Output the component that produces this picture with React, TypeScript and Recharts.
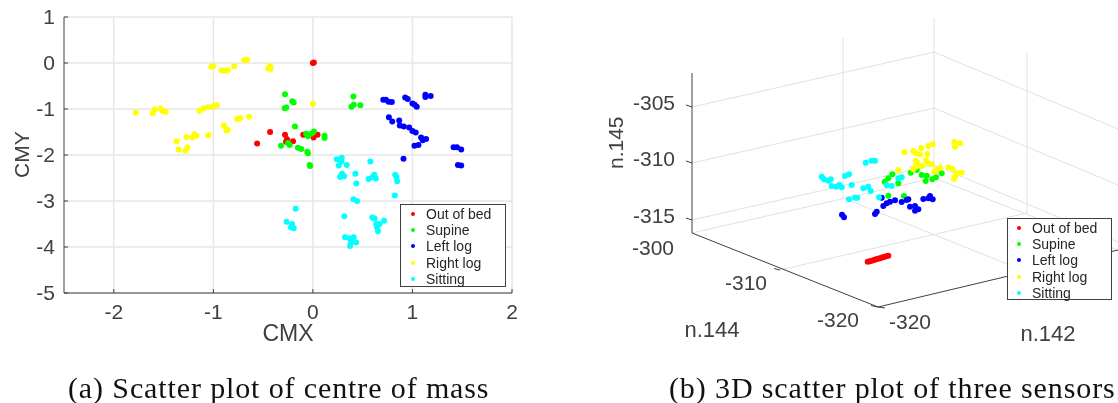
import React from 'react';
import {
  ScatterChart,
  Scatter,
  XAxis,
  YAxis,
  CartesianGrid,
  ReferenceLine,
  ReferenceDot,
  Legend,
} from 'recharts';

type Pair = [number, number];

// (a) centre of mass, CMX / CMY
const massBed: Pair[] = [[0, 0], [0.01, 0.01], [-0.43, -1.5], [-0.56, -1.75], [-0.28, -1.56], [-0.26, -1.66], [-0.27, -1.71], [-0.2, -1.7], [-0.097, -1.56], [0.007, -1.62], [0.047, -1.56]];
const massSupine: Pair[] = [[-0.28, -0.68], [-0.207, -0.83], [-0.193, -0.86], [-0.283, -0.985], [-0.267, -0.97], [-0.18, -1.38], [-0.32, -1.8], [-0.25, -1.74], [-0.233, -1.78], [-0.15, -1.84], [-0.117, -1.87], [-0.05, -1.96], [-0.057, -1.93], [-0.027, -2.24], [-0.033, -2.22], [-0.067, -1.54], [-0.05, -1.59], [-0.017, -1.54], [0.01, -1.49], [0.117, -1.58], [0.117, -1.63], [0.407, -0.73], [0.477, -0.92], [0.387, -0.95], [0.41, -0.91]];
const massLeft: Pair[] = [[0.707, -0.8], [0.733, -0.8], [0.76, -0.84], [0.793, -0.85], [0.927, -0.75], [0.953, -0.78], [1.0, -0.88], [1.023, -0.91], [1.043, -0.95], [1.13, -0.69], [1.13, -0.74], [1.183, -0.72], [0.763, -1.18], [0.797, -1.27], [0.867, -1.25], [0.873, -1.36], [0.913, -1.38], [0.967, -1.4], [1.0, -1.48], [1.033, -1.51], [1.087, -1.62], [1.103, -1.68], [1.137, -1.65], [1.02, -1.8], [1.06, -1.78], [0.91, -2.08], [1.413, -1.83], [1.447, -1.83], [1.49, -1.88], [1.457, -2.22], [1.49, -2.23]];
const massRight: Pair[] = [[-1.78, -1.08], [-1.61, -1.09], [-1.59, -1.01], [-1.53, -0.99], [-1.51, -1.04], [-1.48, -1.06], [-1.37, -1.7], [-1.35, -1.88], [-1.27, -1.61], [-1.28, -1.91], [-1.26, -1.84], [-1.21, -1.62], [-1.19, -1.55], [-1.17, -1.58], [-1.14, -1.04], [-1.1, -0.99], [-1.05, -0.96], [-1.0, -0.94], [-0.965, -0.92], [-1.05, -1.57], [-1.02, -0.08], [-1.0, -0.07], [-0.92, -0.16], [-0.89, -0.17], [-0.855, -0.16], [-0.79, -0.07], [-0.69, 0.06], [-0.66, 0.07], [-0.45, -0.12], [-0.43, -0.07], [-0.425, -0.13], [-0.895, -1.36], [-0.87, -1.47], [-0.855, -1.45], [-0.76, -1.22], [-0.73, -1.2], [-0.64, -1.17], [0, -0.885]];
const massSitting: Pair[] = [[0.24, -2.09], [0.29, -2.06], [0.287, -2.14], [0.26, -2.23], [0.34, -2.22], [0.577, -2.14], [0.427, -2.41], [0.293, -2.41], [0.273, -2.48], [0.313, -2.46], [0.437, -2.62], [0.56, -2.52], [0.6, -2.48], [0.617, -2.43], [0.633, -2.51], [0.827, -2.43], [0.84, -2.48], [0.847, -2.57], [0.823, -2.88], [0.407, -2.96], [0.444, -3.0], [-0.173, -3.17], [-0.264, -3.45], [-0.21, -3.5], [-0.22, -3.57], [-0.193, -3.59], [0.315, -3.33], [0.322, -3.79], [0.366, -3.81], [0.41, -3.79], [0.383, -3.9], [0.434, -3.9], [0.373, -3.98], [0.597, -3.36], [0.62, -3.38], [0.637, -3.5], [0.67, -3.5], [0.644, -3.57], [0.654, -3.66], [0.715, -3.43]];

// (b) three sensors, already projected onto the view plane
const sensorBed: Pair[] = [[17.57, -2.87], [17.77, -2.82], [17.97, -2.77], [18.2, -2.7], [18.4, -2.63], [18.6, -2.58], [18.8, -2.53], [19.0, -2.46], [19.2, -2.4], [19.42, -2.33], [19.63, -2.27]];
const sensorSupine: Pair[] = [[19.63, 3.73], [21.2, 3.7], [19.27, 5.13], [19.63, 5.47], [20.03, 5.87], [20.63, 4.97], [21.87, 6.03], [22.47, 6.3], [22.97, 5.8], [23.47, 5.73], [23.37, 5.2], [24.03, 5.37], [24.4, 5.57], [24.97, 5.97]];
const sensorLeft: Pair[] = [[15.0, 1.83], [15.2, 1.57], [18.3, 1.9], [18.47, 2.13], [18.97, 3.53], [19.13, 2.7], [19.47, 2.97], [19.8, 3.13], [20.3, 3.27], [20.97, 3.1], [21.47, 3.3], [21.63, 3.37], [21.8, 2.63], [22.3, 2.7], [22.3, 2.23], [22.63, 2.37], [23.13, 3.4], [23.63, 3.47], [23.8, 3.7], [24.07, 3.37]];
const sensorRight: Pair[] = [[20.63, 6.3], [21.23, 8.07], [22.13, 8.2], [22.37, 7.97], [22.8, 7.87], [22.93, 8.5], [23.53, 7.9], [23.63, 8.7], [24.07, 8.87], [22.37, 7.23], [22.53, 7.03], [22.4, 6.63], [22.13, 6.37], [23.0, 6.7], [23.4, 7.3], [23.53, 7.03], [23.97, 6.87], [24.23, 6.13], [24.53, 6.37], [24.8, 6.53], [25.63, 6.57], [26.07, 6.4], [26.23, 9.1], [26.8, 8.97], [26.3, 8.63], [26.47, 5.97], [26.97, 6.03], [26.3, 5.63], [26.2, 5.4]];
const sensorSitting: Pair[] = [[12.97, 5.63], [13.2, 5.37], [13.63, 5.23], [13.87, 5.37], [13.97, 4.7], [14.4, 4.63], [14.73, 4.8], [14.97, 4.57], [15.3, 5.7], [15.7, 5.87], [15.97, 4.8], [17.13, 4.47], [17.63, 4.63], [17.87, 4.2], [17.37, 7.03], [17.97, 7.23], [18.3, 7.23], [15.7, 3.37], [16.3, 3.53], [16.53, 3.53], [18.7, 3.57], [19.47, 4.77], [19.97, 4.7], [20.63, 5.47], [20.97, 5.57]];

const seriesNames = ['Out of bed', 'Supine', 'Left log', 'Right log', 'Sitting'];
const seriesColors = ['#ff0000', '#00ff00', '#0000ff', '#ffff00', '#00ffff'];
const massSeries = [massBed, massSupine, massLeft, massRight, massSitting];
const sensorSeries = [sensorBed, sensorSupine, sensorLeft, sensorRight, sensorSitting];

const cmxTicks = [-2, -1, 0, 1, 2];
const cmyTicks = [-5, -4, -3, -2, -1, 0, 1];

// n.145 ticks on the left wall edge, view-plane height -> label
const sensorZTicks = [12.6, 7, 1.3];
const sensorZLabels = ['-305', '-310', '-315'];

// box edges in the view plane: x1, y1, x2, y2
const wallLines = [
  [0, 12.6, 24.2, 18.1], [24.2, 18.1, 42.6, 10.4],
  [0, 7, 24.2, 12.5], [24.2, 12.5, 42.6, 4.8],
  [0, 1.3, 24.2, 6.8], [24.2, 6.8, 42.6, -0.9],
  [15.1, 19.5, 15.1, 3.5], [24.2, 21.5, 24.2, 5.5], [33.5, 18, 33.5, 2],
  [0, 0, 24.2, 5.5], [24.2, 5.5, 42.6, -1.7],
  [15.1, 3.5, 33.5, -3.9], [33.5, 2, 8.8, -3.7],
];
const frontAxes = [
  [0, 16, 0, 0], [0, 0, 18.6, -7.4], [18.6, -7.4, 42.6, -1.7],
  [8.8, -3.7, 8.2, -3.55], [18.6, -7.4, 17.9, -7.25], [18.6, -7.4, 19.3, -7.5],
];
const sensorLabels: [number, number, string, number][] = [
  [-3.9, -1.5, '-300', 21],
  [5.4, -5, '-310', 21],
  [14.6, -8.7, '-320', 21],
  [21.8, -8.9, '-320', 21],
  [2, -9.6, 'n.144', 22],
  [35.6, -10, 'n.142', 22],
];

const textColor = '#404040';
const sans = '"Liberation Sans", Arial, sans-serif';

const toPoints = (rows: Pair[]) => rows.map(([x, y]) => ({ x, y }));

const Dot = ({ cx, cy, fill }: any) => <circle cx={cx} cy={cy} r={3} fill={fill} />;

function CmxTick({ x, y, payload }: any) {
  return (
    <g>
      <line x1={x} x2={x} y1={y} y2={y - 4} stroke={textColor} />
      <text x={x} y={y + 26} textAnchor="middle" fontSize={21} fontFamily={sans} fill={textColor}>
        {payload.value}
      </text>
    </g>
  );
}

function CmyTick({ x, y, payload }: any) {
  return (
    <g>
      <line x1={x} x2={x + 4} y1={y} y2={y} stroke={textColor} />
      <text x={x - 9} y={y + 7} textAnchor="end" fontSize={21} fontFamily={sans} fill={textColor}>
        {payload.value}
      </text>
    </g>
  );
}

function SensorZTick({ x, y, index }: any) {
  return (
    <g>
      <line x1={x} x2={x - 6} y1={y} y2={y - 2} stroke={textColor} />
      <text x={x - 17} y={y + 3} textAnchor="end" fontSize={21} fontFamily={sans} fill={textColor}>
        {sensorZLabels[index]}
      </text>
    </g>
  );
}

function LegendBox({ payload, dotLeft, textLeft }: any) {
  return (
    <div style={{ width: '100%', height: '100%', boxSizing: 'border-box', border: '1px solid #404040', background: '#fff', paddingTop: 1 }}>
      {(payload || []).map((entry: any) => (
        <div key={entry.value} style={{ position: 'relative', height: 16.2, lineHeight: '16.2px', fontSize: 14, fontFamily: sans, color: '#262626' }}>
          <span style={{ position: 'absolute', left: dotLeft, top: 6, width: 4, height: 4, borderRadius: '50%', background: entry.color }} />
          <span style={{ position: 'absolute', left: textLeft, whiteSpace: 'nowrap' }}>{entry.value}</span>
        </div>
      ))}
    </div>
  );
}

function MassChart() {
  return (
    <ScatterChart width={530} height={345} margin={{ top: 17, right: 18, bottom: 0, left: 0 }}>
      <CartesianGrid stroke="#e6e6e6" strokeWidth={1.5} verticalValues={cmxTicks} horizontalValues={cmyTicks} />
      <XAxis
        type="number"
        dataKey="x"
        domain={[-2.5, 2]}
        ticks={cmxTicks}
        height={52}
        interval={0}
        tickSize={0}
        tickMargin={0}
        tickLine={false}
        stroke={textColor}
        tick={<CmxTick />}
        label={{ value: 'CMX', position: 'insideBottom', dx: 0, dy: 1, fontSize: 23, fontFamily: sans, fill: textColor }}
      />
      <YAxis
        type="number"
        dataKey="y"
        domain={[-5, 1]}
        ticks={cmyTicks}
        width={64}
        interval={0}
        tickSize={0}
        tickMargin={0}
        tickLine={false}
        stroke={textColor}
        tick={<CmyTick />}
        label={{ value: 'CMY', angle: -90, position: 'insideLeft', dx: 17, dy: 23, fontSize: 21, fontFamily: sans, fill: textColor }}
      />
      <Legend
        layout="vertical"
        align="center"
        verticalAlign="middle"
        itemSorter={null}
        content={<LegendBox dotLeft={10} textLeft={25} />}
        wrapperStyle={{ position: 'absolute', left: 400, top: 204, width: 106, height: 83 }}
      />
      {massSeries.map((rows, i) => (
        <Scatter key={seriesNames[i]} name={seriesNames[i]} data={toPoints(rows)} fill={seriesColors[i]} shape={Dot} isAnimationActive={false} />
      ))}
    </ScatterChart>
  );
}

function SensorChart() {
  return (
    <ScatterChart width={518} height={360} margin={{ top: 0, right: 0, bottom: 0, left: 0 }}>
      <XAxis type="number" dataKey="x" domain={[0, 42.6]} hide />
      <YAxis
        type="number"
        dataKey="y"
        domain={[-12.7, 23.3]}
        ticks={sensorZTicks}
        width={92}
        interval={0}
        axisLine={false}
        tickLine={false}
        tickSize={0}
        tickMargin={0}
        tick={<SensorZTick />}
      />
      {wallLines.map(([x1, y1, x2, y2], i) => (
        <ReferenceLine key={`w${i}`} segment={[{ x: x1, y: y1 }, { x: x2, y: y2 }]} stroke="#e0e0e0" strokeWidth={1} ifOverflow="visible" />
      ))}
      {frontAxes.map(([x1, y1, x2, y2], i) => (
        <ReferenceLine key={`a${i}`} segment={[{ x: x1, y: y1 }, { x: x2, y: y2 }]} stroke={textColor} strokeWidth={1} ifOverflow="visible" />
      ))}
      <Legend
        layout="vertical"
        align="center"
        verticalAlign="middle"
        itemSorter={null}
        content={<LegendBox dotLeft={9} textLeft={24} />}
        wrapperStyle={{ position: 'absolute', left: 407, top: 218, width: 105, height: 82 }}
      />
      {sensorSeries.map((rows, i) => (
        <Scatter key={seriesNames[i]} name={seriesNames[i]} data={toPoints(rows)} fill={seriesColors[i]} shape={Dot} isAnimationActive={false} />
      ))}
      {sensorLabels.map(([x, y, text, size]) => (
        <ReferenceDot
          key={`${text}${x}`}
          x={x}
          y={y}
          r={0}
          ifOverflow="visible"
          stroke="none"
          fill="none"
          label={{ value: text, position: 'center', fontSize: size, fontFamily: sans, fill: textColor }}
        />
      ))}
    </ScatterChart>
  );
}

const captionStyle: React.CSSProperties = {
  position: 'absolute',
  top: 372,
  fontFamily: '"Liberation Serif", serif',
  fontSize: 30,
  letterSpacing: 0.88,
  lineHeight: '32px',
  color: '#111',
  whiteSpace: 'nowrap',
};

export default function App() {
  return (
    <div style={{ position: 'absolute', left: 0, top: 0, width: 1118, height: 403, overflow: 'hidden', background: '#fff', filter: 'blur(0.35px)' }}>
      <div style={{ position: 'absolute', left: 0, top: 0 }}>
        <MassChart />
      </div>
      <div style={{ position: 'absolute', left: 600, top: 0 }}>
        <SensorChart />
      </div>
      <div style={{ position: 'absolute', left: 604, top: 145, width: 24, textAlign: 'center', transform: 'rotate(-90deg)', fontFamily: sans, fontSize: 21, color: textColor, whiteSpace: 'nowrap' }}>
        n.145
      </div>
      <div style={{ ...captionStyle, left: 68 }}>(a) Scatter plot of centre of mass</div>
      <div style={{ ...captionStyle, left: 669 }}>(b) 3D scatter plot of three sensors</div>
    </div>
  );
}
